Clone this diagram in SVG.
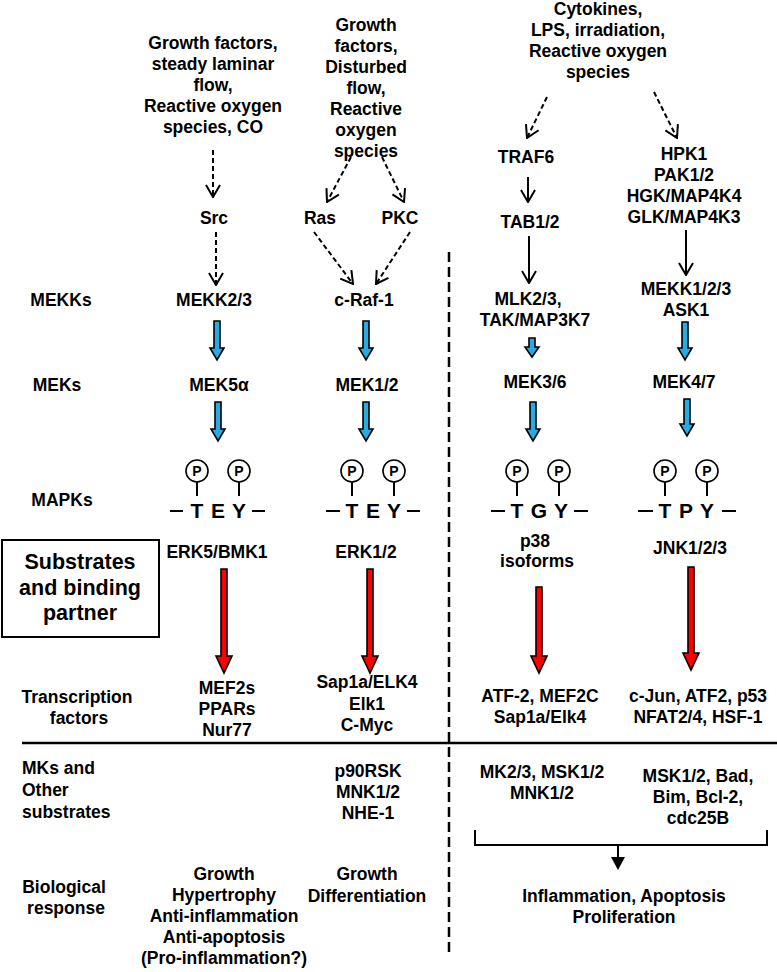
<svg xmlns="http://www.w3.org/2000/svg" width="777" height="972" viewBox="0 0 777 972">
<defs>
<style>
text{font-family:"Liberation Sans",Arial,sans-serif;font-weight:bold;font-size:17.5px;fill:#000;text-anchor:middle}
.st{text-anchor:start}
.big{font-size:21.5px}
.res{font-size:21px}
.pp{font-size:14px}
.dash{fill:none;stroke:#000;stroke-width:2;stroke-dasharray:5,3}
.sol{fill:none;stroke:#000;stroke-width:2}
.blue{fill:#29ABE2;stroke:#000;stroke-width:1.6;stroke-linejoin:miter}
.red{fill:#FF0000;stroke:#000;stroke-width:1.6;stroke-linejoin:miter}
.pc{fill:#fff;stroke:#000;stroke-width:1.6}
.ln{stroke:#000;stroke-width:2}
</style>
<marker id="v" viewBox="0 0 14 16" refX="13" refY="8" markerWidth="14" markerHeight="16" markerUnits="userSpaceOnUse" orient="auto">
<path d="M1,1 L13,8 L1,15" fill="none" stroke="#000" stroke-width="2" stroke-dasharray="none"/>
</marker>
</defs>

<g id="row-labels">
<text x="61" y="306">MEKKs</text>
<text x="57" y="391">MEKs</text>
<text x="62" y="506">MAPKs</text>
<text x="77" y="703">Transcription</text>
<text x="79" y="724">factors</text>
<text class="st" x="22" y="774">MKs and</text>
<text class="st" x="22" y="796">Other</text>
<text class="st" x="22" y="818">substrates</text>
<text x="64" y="893">Biological</text>
<text x="66" y="914">response</text>
</g>

<g id="box">
<rect x="2" y="540" width="157" height="97" fill="#fff" stroke="#000" stroke-width="2"/>
<text class="big" x="80" y="569">Substrates</text>
<text class="big" x="80" y="595">and binding</text>
<text class="big" x="80" y="620">partner</text>
</g>

<g id="stim1">
<text x="213" y="49">Growth factors,</text>
<text x="213" y="70">steady laminar</text>
<text x="213" y="91">flow,</text>
<text x="213" y="112">Reactive oxygen</text>
<text x="213" y="133">species, CO</text>
</g>
<g id="stim2">
<text x="366" y="31">Growth</text>
<text x="366" y="52">factors,</text>
<text x="366" y="73">Disturbed</text>
<text x="366" y="94">flow,</text>
<text x="366" y="115">Reactive</text>
<text x="366" y="136">oxygen</text>
<text x="366" y="157">species</text>
</g>
<g id="stim3">
<text x="598" y="15">Cytokines,</text>
<text x="598" y="36">LPS, irradiation,</text>
<text x="598" y="57">Reactive oxygen</text>
<text x="598" y="78">species</text>
</g>

<g id="src"><text x="214" y="224">Src</text></g>
<g id="ras"><text x="320" y="224">Ras</text></g>
<g id="pkc"><text x="400" y="224">PKC</text></g>
<g id="traf6"><text x="526" y="163">TRAF6</text></g>
<g id="tab"><text x="530" y="228">TAB1/2</text></g>
<g id="hpk">
<text x="684" y="160">HPK1</text>
<text x="684" y="181">PAK1/2</text>
<text x="684" y="202">HGK/MAP4K4</text>
<text x="684" y="223">GLK/MAP4K3</text>
</g>

<g id="mekk23"><text x="214" y="306">MEKK2/3</text></g>
<g id="craf"><text x="364" y="306">c-Raf-1</text></g>
<g id="mlk">
<text x="528" y="305">MLK2/3,</text>
<text x="535" y="326">TAK/MAP3K7</text>
</g>
<g id="mekk123">
<text x="686" y="295">MEKK1/2/3</text>
<text x="686" y="316">ASK1</text>
</g>

<g id="mek5"><text x="219" y="391">MEK5α</text></g>
<g id="mek12"><text x="367" y="391">MEK1/2</text></g>
<g id="mek36"><text x="535" y="388">MEK3/6</text></g>
<g id="mek47"><text x="684" y="388">MEK4/7</text></g>

<g id="mapk1">
<circle class="pc" cx="197" cy="471" r="11"/><text class="pp" x="197" y="476">P</text><line class="ln" x1="197" y1="482" x2="197" y2="496"/>
<circle class="pc" cx="239" cy="471" r="11"/><text class="pp" x="239" y="476">P</text><line class="ln" x1="239" y1="482" x2="239" y2="496"/>
<line class="ln" x1="170" y1="511" x2="183" y2="511"/><line class="ln" x1="252" y1="511" x2="265" y2="511"/>
<text class="res" x="197" y="518">T</text><text class="res" x="218" y="518">E</text><text class="res" x="239" y="518">Y</text>
</g>
<g id="mapk2">
<circle class="pc" cx="352" cy="471" r="11"/><text class="pp" x="352" y="476">P</text><line class="ln" x1="352" y1="482" x2="352" y2="496"/>
<circle class="pc" cx="394" cy="471" r="11"/><text class="pp" x="394" y="476">P</text><line class="ln" x1="394" y1="482" x2="394" y2="496"/>
<line class="ln" x1="326" y1="511" x2="340" y2="511"/><line class="ln" x1="407" y1="511" x2="420" y2="511"/>
<text class="res" x="352" y="518">T</text><text class="res" x="373" y="518">E</text><text class="res" x="394" y="518">Y</text>
</g>
<g id="mapk3">
<circle class="pc" cx="517" cy="471" r="11"/><text class="pp" x="517" y="476">P</text><line class="ln" x1="517" y1="482" x2="517" y2="496"/>
<circle class="pc" cx="559" cy="471" r="11"/><text class="pp" x="559" y="476">P</text><line class="ln" x1="559" y1="482" x2="559" y2="496"/>
<line class="ln" x1="491" y1="511" x2="505" y2="511"/><line class="ln" x1="574" y1="511" x2="588" y2="511"/>
<text class="res" x="517" y="518">T</text><text class="res" x="539" y="518">G</text><text class="res" x="561" y="518">Y</text>
</g>
<g id="mapk4">
<circle class="pc" cx="665" cy="471" r="11"/><text class="pp" x="665" y="476">P</text><line class="ln" x1="665" y1="482" x2="665" y2="496"/>
<circle class="pc" cx="707" cy="471" r="11"/><text class="pp" x="707" y="476">P</text><line class="ln" x1="707" y1="482" x2="707" y2="496"/>
<line class="ln" x1="638" y1="511" x2="653" y2="511"/><line class="ln" x1="722" y1="511" x2="736" y2="511"/>
<text class="res" x="665" y="518">T</text><text class="res" x="686" y="518">P</text><text class="res" x="707" y="518">Y</text>
</g>

<g id="erk5"><text x="217" y="558">ERK5/BMK1</text></g>
<g id="erk12"><text x="366" y="558">ERK1/2</text></g>
<g id="p38"><text x="535" y="547">p38</text><text x="537" y="567">isoforms</text></g>
<g id="jnk"><text x="690" y="554">JNK1/2/3</text></g>

<g id="tf1">
<text x="227" y="694">MEF2s</text>
<text x="227" y="715">PPARs</text>
<text x="227" y="736">Nur77</text>
</g>
<g id="tf2">
<text x="367" y="688">Sap1a/ELK4</text>
<text x="367" y="710">Elk1</text>
<text x="367" y="731">C-Myc</text>
</g>
<g id="tf3">
<text x="540" y="702">ATF-2, MEF2C</text>
<text x="540" y="723">Sap1a/Elk4</text>
</g>
<g id="tf4">
<text x="698" y="702">c-Jun, ATF2, p53</text>
<text x="698" y="723">NFAT2/4, HSF-1</text>
</g>

<g id="mk2">
<text x="368" y="777">p90RSK</text>
<text x="368" y="798">MNK1/2</text>
<text x="368" y="819">NHE-1</text>
</g>
<g id="mk3">
<text x="542" y="778">MK2/3, MSK1/2</text>
<text x="542" y="799">MNK1/2</text>
</g>
<g id="mk4">
<text x="698" y="782">MSK1/2, Bad,</text>
<text x="698" y="803">Bim, Bcl-2,</text>
<text x="698" y="824">cdc25B</text>
</g>

<g id="bio1">
<text x="224" y="880">Growth</text>
<text x="224" y="901">Hypertrophy</text>
<text x="224" y="922">Anti-inflammation</text>
<text x="224" y="943">Anti-apoptosis</text>
<text x="224" y="964">(Pro-inflammation?)</text>
</g>
<g id="bio2">
<text x="367" y="880">Growth</text>
<text x="367" y="902">Differentiation</text>
</g>
<g id="bio3">
<text x="624" y="902">Inflammation, Apoptosis</text>
<text x="624" y="923">Proliferation</text>
</g>

<g id="connectors">
<line class="dash" x1="213" y1="150" x2="213" y2="197" marker-end="url(#v)"/>
<line class="dash" x1="351" y1="157" x2="327" y2="202" marker-end="url(#v)"/>
<line class="dash" x1="382" y1="157" x2="404" y2="202" marker-end="url(#v)"/>
<line class="dash" x1="216" y1="232" x2="216" y2="285" marker-end="url(#v)"/>
<line class="dash" x1="314" y1="232" x2="353" y2="284" marker-end="url(#v)"/>
<line class="dash" x1="410" y1="232" x2="376" y2="284" marker-end="url(#v)"/>
<line class="dash" x1="547" y1="97" x2="527" y2="138" marker-end="url(#v)"/>
<line class="dash" x1="654" y1="92" x2="677" y2="138" marker-end="url(#v)"/>
<line class="sol" x1="528" y1="177" x2="528" y2="202" marker-end="url(#v)"/>
<line class="sol" x1="529" y1="236" x2="529" y2="283" marker-end="url(#v)"/>
<line class="sol" x1="686" y1="230" x2="686" y2="275" marker-end="url(#v)"/>

<polygon class="blue" points="214,321 220,321 220,348 224,348 217,360 210,348 214,348"/>
<polygon class="blue" points="363,321 369,321 369,348 373,348 366,360 359,348 363,348"/>
<polygon class="blue" points="215,402 221,402 221,429 225,429 218,441 211,429 215,429"/>
<polygon class="blue" points="363,402 369,402 369,429 373,429 366,441 359,429 363,429"/>
<polygon class="blue" points="529,338 535,338 535,347 539,347 532,357 525,347 529,347"/>
<polygon class="blue" points="530,402 536,402 536,429 540,429 533,441 526,429 530,429"/>
<polygon class="blue" points="682,322 688,322 688,348 692,348 685,360 678,348 682,348"/>
<polygon class="blue" points="684,399 690,399 690,424 694,424 687,436 680,424 684,424"/>

<polygon class="red" points="221,569 227,569 227,656 232,656 224,673 216,656 221,656"/>
<polygon class="red" points="367,569 373,569 373,656 378,656 370,673 362,656 367,656"/>
<polygon class="red" points="536,587 542,587 542,656 547,656 539,673 531,656 536,656"/>
<polygon class="red" points="688,567 694,567 694,653 699,653 691,670 683,653 688,653"/>

<line x1="449" y1="252" x2="449" y2="957" stroke="#000" stroke-width="2.5" stroke-dasharray="10,5"/>
<line x1="22" y1="743" x2="777" y2="743" stroke="#000" stroke-width="2.5"/>
<path d="M475,830 V845 H767 V830" fill="none" stroke="#000" stroke-width="2"/>
<line class="ln" x1="618" y1="845" x2="618" y2="858"/>
<polygon points="611,857 625,857 618,870" fill="#000"/>
</g>
</svg>
